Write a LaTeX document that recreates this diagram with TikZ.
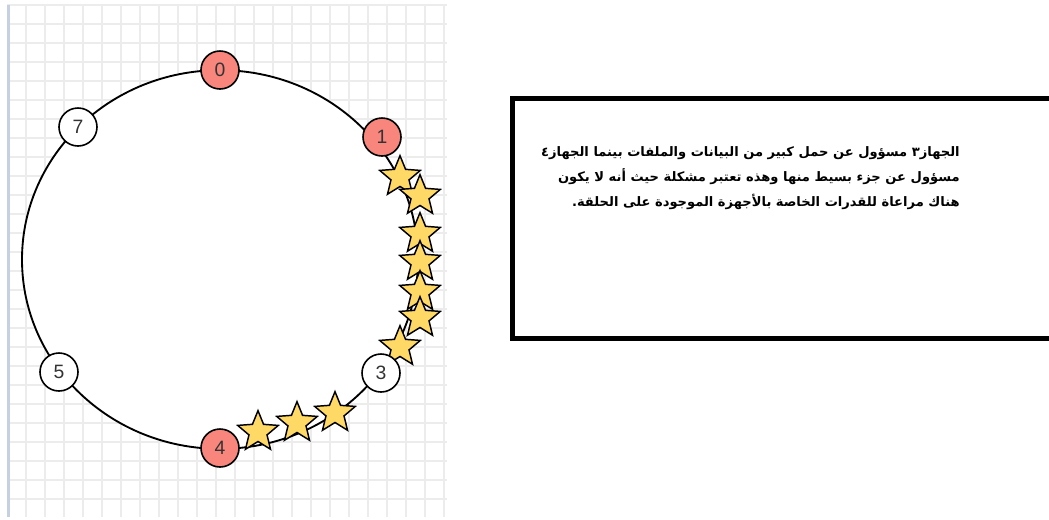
\documentclass[tikz,border=0pt]{standalone}
\usepackage{fontspec}
\setmainfont{Liberation Sans}
\newfontfamily\arabicfont[Script=Arabic]{DejaVu Sans}
\TeXXeTstate=1
\usepackage{xcolor}
\usepackage{tikz}
\usetikzlibrary{shapes.geometric,positioning}
\definecolor{ringred}{RGB}{248,134,125}
\definecolor{tokfill}{RGB}{255,217,102}
\definecolor{gridgray}{RGB}{236,236,236}
\definecolor{gridedge}{RGB}{197,208,224}

\begin{document}
\begin{tikzpicture}[
    x=0.75pt, y=-0.75pt,
    gridline/.style={gridgray, line width=0.9pt},
    ring/.style={ellipse, draw, line width=1.4pt, fill=white, minimum width=297pt, minimum height=284pt, inner sep=0pt},
    srv/.style={circle, draw, line width=1.2pt, fill=white, minimum size=28.5pt, inner sep=0pt, text=black!80, font=\fontsize{14.5}{16}\selectfont},
    hot/.style={srv, fill=ringred},
    tok/.style={star, star points=5, star point ratio=2.25, draw, line width=1.1pt, fill=tokfill, minimum size=32pt, inner sep=0pt},
    notebox/.style={rectangle, draw, line width=3.75pt, fill=white, minimum width=421pt, minimum height=180pt, inner sep=0pt},
    notetxt/.style={align=right, inner sep=0pt, font=\fontsize{9.8}{18.75}\selectfont\arabicfont\bfseries}
]
\useasboundingbox (0,0) rectangle (1049,519);
\clip (0,0) rectangle (1049,519);
% ----- background grid -----
\foreach \i in {1,...,23} \draw[gridline] (7+19*\i,5) -- (7+19*\i,517);
\foreach \j in {0,...,26} \draw[gridline] (7,5+19*\j) -- (447,5+19*\j);
\draw[gridedge, line width=2.4pt] (8.5,5) -- (8.5,517);
% ----- ring -----
\node[ring] (ring) at (220,259.5) {};
% ----- tokens -----
\node[tok] (t1) at (400,177) {};
\node[tok] (t2) at (420,196) {};
\node[tok] (t3) at (420,234) {};
\node[tok] (t4) at (420,262) {};
\node[tok] (t5) at (420,292) {};
\node[tok] (t6) at (420,318) {};
\node[tok] (t7) at (400,347) {};
\node[tok] (t8) at (335,413) {};
\node[tok] (t9) at (297,423) {};
\node[tok] (t10) at (258,432) {};
% ----- machines -----
\node[hot] (m0) at (220,70) {0};
\node[hot] (m1) at (382,137) {1};
\node[srv] (m3) at (381,373) {3};
\node[hot] (m4) at (220,448) {4};
\node[srv] (m5) at (59,372) {5};
\node[srv] (m7) at (78,127) {7};
% ----- note -----
\node[notebox, anchor=north west] (note) at (509.5,95.5) {};
\node[notetxt, anchor=north east] (msg) at (960,146) {%
\beginR الجهاز٣ مسؤول عن حمل كبير من البيانات والملفات بينما الجهاز٤\endR\\
\beginR مسؤول عن جزء بسيط منها وهذه تعتبر مشكلة حيث أنه لا يكون\endR\\
\beginR هناك مراعاة للقدرات الخاصة بالأجهزة الموجودة على الحلقة.\endR};
\end{tikzpicture}
\end{document}
